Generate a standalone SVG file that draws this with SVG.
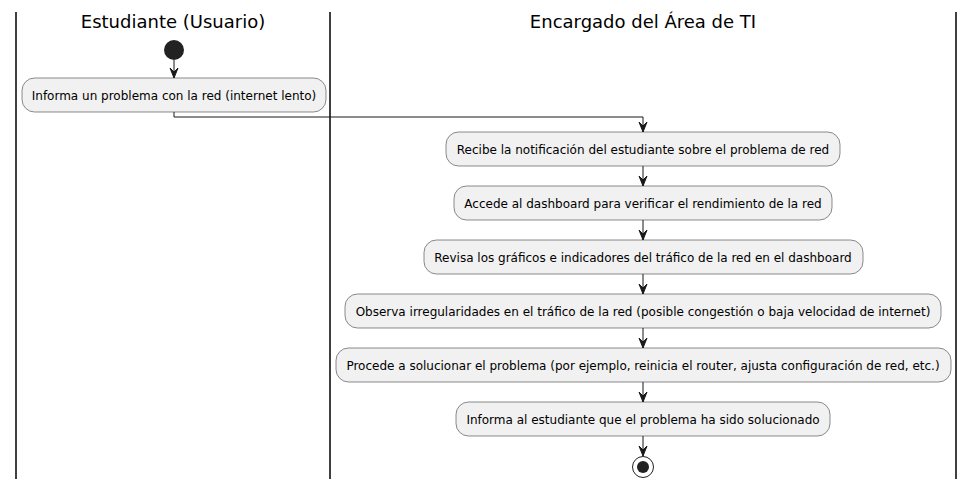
<svg xmlns="http://www.w3.org/2000/svg" width="974" height="489" viewBox="0 0 974 489">
<style>
.lane{stroke:#000;stroke-width:1.5;fill:none}
.title{font-family:"DejaVu Sans",sans-serif;font-size:18px;fill:#000;text-anchor:middle}
.act rect{fill:#F1F1F1;stroke:#181818;stroke-width:0.5}
.act text{font-family:"DejaVu Sans",sans-serif;font-size:12px;fill:#000;text-anchor:middle}
.conn line,.conn polyline{stroke:#181818;stroke-width:1;fill:none}
.conn polygon{fill:#181818;stroke:#181818;stroke-width:1}
</style>
<rect width="974" height="489" fill="#fff"/>
<g id="lanes">
<line class="lane" x1="16" y1="12" x2="16" y2="479"/>
<line class="lane" x1="330" y1="12" x2="330" y2="479"/>
<line class="lane" x1="956" y1="12" x2="956" y2="479"/>
<text class="title" x="173" y="28">Estudiante (Usuario)</text>
<text class="title" x="643" y="28">Encargado del Área de TI</text>
</g>
<g id="start"><circle cx="174" cy="50" r="10" fill="#222"/></g>
<g id="n1" class="act"><rect x="22" y="78" width="304" height="34" rx="12.5"/><text x="174" y="99.5">Informa un problema con la red (internet lento)</text></g>
<g id="n2" class="act"><rect x="446" y="132" width="394" height="34" rx="12.5"/><text x="643" y="153.5">Recibe la notificación del estudiante sobre el problema de red</text></g>
<g id="n3" class="act"><rect x="454" y="186" width="378" height="34" rx="12.5"/><text x="643" y="207.5">Accede al dashboard para verificar el rendimiento de la red</text></g>
<g id="n4" class="act"><rect x="424" y="240" width="439" height="34" rx="12.5"/><text x="643" y="261.5">Revisa los gráficos e indicadores del tráfico de la red en el dashboard</text></g>
<g id="n5" class="act"><rect x="345" y="294" width="596" height="34" rx="12.5"/><text x="643" y="315.5">Observa irregularidades en el tráfico de la red (posible congestión o baja velocidad de internet)</text></g>
<g id="n6" class="act"><rect x="336" y="348" width="615" height="34" rx="12.5"/><text x="643" y="369.5">Procede a solucionar el problema (por ejemplo, reinicia el router, ajusta configuración de red, etc.)</text></g>
<g id="n7" class="act"><rect x="456" y="402" width="374" height="34" rx="12.5"/><text x="643" y="423.5">Informa al estudiante que el problema ha sido solucionado</text></g>
<g id="end"><circle cx="643" cy="467" r="10.5" fill="none" stroke="#222" stroke-width="1"/><circle cx="643" cy="467" r="6" fill="#222"/></g>
<g id="connectors" class="conn">
<line x1="174" y1="60" x2="174" y2="78"/><polygon points="170,68 174,78 178,68 174,72"/>
<polyline points="174,112 174,117 643,117 643,132"/><polygon points="639,122 643,132 647,122 643,126"/>
<line x1="643" y1="166" x2="643" y2="186"/><polygon points="639,176 643,186 647,176 643,180"/>
<line x1="643" y1="220" x2="643" y2="240"/><polygon points="639,230 643,240 647,230 643,234"/>
<line x1="643" y1="274" x2="643" y2="294"/><polygon points="639,284 643,294 647,284 643,288"/>
<line x1="643" y1="328" x2="643" y2="348"/><polygon points="639,338 643,348 647,338 643,342"/>
<line x1="643" y1="382" x2="643" y2="402"/><polygon points="639,392 643,402 647,392 643,396"/>
<line x1="643" y1="436" x2="643" y2="456"/><polygon points="639,446 643,456 647,446 643,450"/>
</g>
</svg>
